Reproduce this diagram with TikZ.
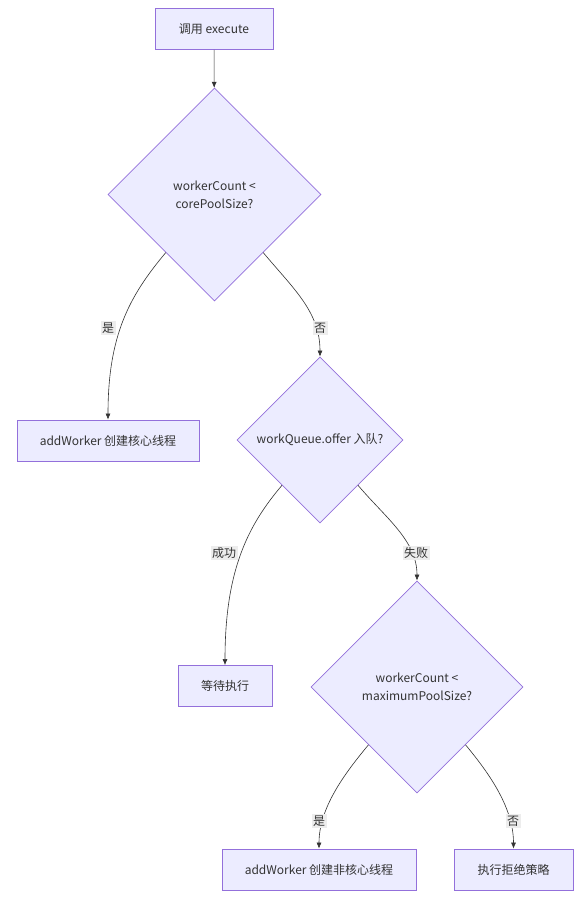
\documentclass[tikz,border=0pt]{standalone}
\usepackage{fontspec}
\setmainfont{Noto Sans CJK SC}
\usepackage{tikz}
\usetikzlibrary{arrows.meta}
\usetikzlibrary{shapes.geometric}
\definecolor{fillc}{HTML}{ECECFF}
\definecolor{linec}{HTML}{9370DB}
\definecolor{txtc}{HTML}{333333}
\definecolor{lblbg}{HTML}{EDEDED}
\tikzset{>={Latex[length=6pt,width=5pt]}}
\tikzset{
  proc/.style={draw=linec,fill=fillc,line width=0.8pt,text=txtc,minimum height=41pt,inner sep=2pt},
  dec/.style={diamond,aspect=1,draw=linec,fill=fillc,line width=0.8pt,text=txtc,align=center,inner sep=1pt},
  edge/.style={->,draw=txtc,line width=0.6pt},
  lbl/.style={fill=lblbg,text=txtc,inner sep=1.5pt}
}

\begin{document}
\begin{tikzpicture}[x=1pt,y=1pt,font=\fontsize{12}{18}\selectfont]
  \useasboundingbox (0,0) rectangle (586,-908);
  \node[proc,minimum width=118pt] (b1) at (214,-29) {调用 execute};
  \node[dec,minimum size=213pt] (d1) at (214.5,-194.5) {workerCount <\\corePoolSize?};
  \node[proc,minimum width=182pt] (b2) at (108,-440.5) {addWorker 创建核心线程};
  \node[dec,minimum size=166pt] (d2) at (320,-440) {workQueue.offer 入队?};
  \node[proc,minimum width=94pt] (b3) at (225,-686) {等待执行};
  \node[dec,minimum size=212pt] (d3) at (417,-687) {workerCount <\\maximumPoolSize?};
  \node[proc,minimum width=194pt] (b4) at (319,-869.5) {addWorker 创建非核心线程};
  \node[proc,minimum width=119pt] (b5) at (513.5,-869.5) {执行拒绝策略};
  \draw[edge] (b1) -- (d1);
  \draw[edge] (d1.-130) .. controls +(-36,-43) and +(0,85) .. (b2.north);
  \draw[edge] (d1.-50) .. controls +(30,-36) and +(0,45) .. (d2.north);
  \draw[edge] (d2.-130) .. controls +(-34,-40) and +(0,95) .. (b3.north);
  \draw[edge] (d2.-50) .. controls +(28,-33) and +(0,40) .. (d3.north);
  \draw[edge] (d3.-130) .. controls +(-25,-30) and +(0,40) .. (b4.north);
  \draw[edge] (d3.-50) .. controls +(25,-30) and +(0,40) .. (b5.north);
  \node[lbl] (l1) at (108,-328) {是};
  \node[lbl] (l2) at (320,-328) {否};
  \node[lbl] (l3) at (224,-553) {成功};
  \node[lbl] (l4) at (416,-553) {失败};
  \node[lbl] (l5) at (319,-821) {是};
  \node[lbl] (l6) at (513,-821) {否};
\end{tikzpicture}
\end{document}
